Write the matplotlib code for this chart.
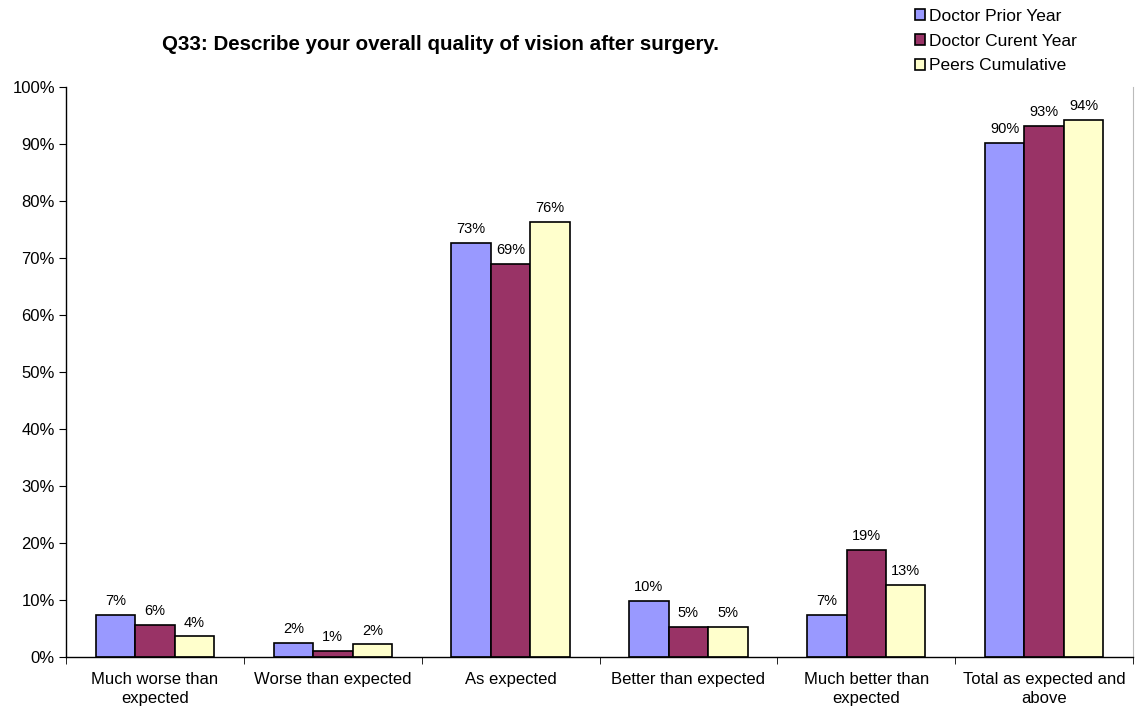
import numpy as np
import matplotlib.pyplot as plt

plt.rcParams['font.family'] = ['Liberation Sans', 'DejaVu Sans']

categories = ['Much worse than\nexpected', 'Worse than expected', 'As expected',
              'Better than expected', 'Much better than\nexpected',
              'Total as expected and\nabove']
prior_year = [7.4, 2.5, 72.7, 9.9, 7.4, 90.1]
current_year = [5.7, 1.1, 69.0, 5.3, 18.7, 93.1]
peers = [3.6, 2.2, 76.3, 5.2, 12.7, 94.2]

series = [('Doctor Prior Year', prior_year, '#9999FF'),
          ('Doctor Curent Year', current_year, '#993366'),
          ('Peers Cumulative', peers, '#FFFFCC')]

fig = plt.figure(figsize=(11.39, 7.07), dpi=100)
ax = fig.add_axes([0.058, 0.0707, 0.9367, 0.8063])

x = np.arange(len(categories))
w = 0.222
for i, (name, vals, col) in enumerate(series):
    pos = x + (i - 1) * w
    bars = ax.bar(pos, vals, width=w, color=col, edgecolor='black', linewidth=1.2, label=name)
    for b, v in zip(bars, vals):
        ax.annotate(f'{v:.0f}%', (b.get_x() + b.get_width() / 2, v),
                    xytext=(0, 5), textcoords='offset points',
                    ha='center', va='bottom', fontsize=10.5)

ax.set_xlim(-0.5, len(categories) - 0.5)
ax.set_ylim(0, 100)
ax.set_yticks(np.arange(0, 101, 10))
ax.set_yticklabels([f'{t}%' for t in range(0, 101, 10)], fontsize=12)

ax.set_xticks(x)
ax.set_xticklabels(categories, fontsize=12, linespacing=1.3)
ax.tick_params(axis='x', length=0, pad=11)
ax.set_xticks(np.arange(-0.5, len(categories) + 0.5, 1), minor=True)
ax.tick_params(axis='x', which='minor', length=5, direction='out', color='black')
ax.tick_params(axis='y', length=5, direction='out', pad=3)

ax.spines['top'].set_visible(False)
ax.spines['right'].set_color('#BBBBBB')
ax.spines['left'].set_linewidth(1.0)
ax.spines['bottom'].set_linewidth(1.0)

fig.text(0.387, 0.937, 'Q33: Describe your overall quality of vision after surgery.',
         ha='center', va='center', fontsize=14.8, fontweight='bold')

fig.legend(loc='upper left', bbox_to_anchor=(0.797, 0.997), frameon=False,
           fontsize=12.5, handlelength=0.6, handleheight=0.6, handletextpad=0.25,
           labelspacing=0.55, borderaxespad=0)

fig.savefig('out.png', dpi=100)
